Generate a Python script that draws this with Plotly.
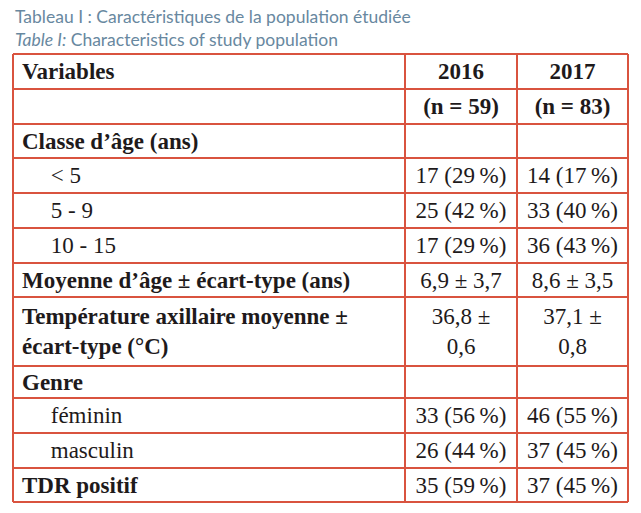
import plotly.graph_objects as go

# table content
header = ["<b>Variables</b>", "<b>2016</b>", "<b>2017</b>"]

ind = "\u00a0" * 5
variables = [
    "",
    "<b>Classe d’âge (ans)</b>",
    ind + "< 5",
    ind + "5 - 9",
    ind + "10 - 15",
    "<b>Moyenne d’âge ± écart-type (ans)</b>",
    "<b>Température axillaire moyenne ±<br>écart-type (°C)</b>",
    "<b>Genre</b>",
    ind + "féminin",
    ind + "masculin",
    "<b>TDR positif</b>",
]
col_2016 = [
    "<b>(n = 59)</b>", "",
    "17 (29\u202f%)", "25 (42\u202f%)", "17 (29\u202f%)",
    "6,9 ± 3,7", "36,8 ±<br>0,6", "",
    "33 (56\u202f%)", "26 (44\u202f%)", "35 (59\u202f%)",
]
col_2017 = [
    "<b>(n = 83)</b>", "",
    "14 (17\u202f%)", "33 (40\u202f%)", "36 (43\u202f%)",
    "8,6 ± 3,5", "37,1 ±<br>0,8", "",
    "46 (55\u202f%)", "37 (45\u202f%)", "37 (45\u202f%)",
]

# layout of the grid (page pixels)
row_edges = [54, 89, 124, 158, 193, 228, 263, 297, 366, 398, 433, 468, 502]
col_edges = [13, 405, 517, 628]
red = "#d9533f"
txt = "#1e1a1b"
serif = "Liberation Serif"

centers = [(a + b) / 2 + 2 for a, b in zip(row_edges[:-1], row_edges[1:])]
col_mid = [(a + b) / 2 for a, b in zip(col_edges[:-1], col_edges[1:])]

first_col = [header[0]] + variables
second_col = [header[1]] + col_2016
third_col = [header[2]] + col_2017

fig = go.Figure()
fig.add_trace(go.Scatter(
    x=[col_edges[0] + 9] * len(first_col), y=centers, text=first_col,
    mode="text", textposition="middle right",
    textfont=dict(family=serif, size=23, color=txt), hoverinfo="skip"))
fig.add_trace(go.Scatter(
    x=[col_mid[1]] * len(second_col), y=centers, text=second_col,
    mode="text", textposition="middle center",
    textfont=dict(family=serif, size=23, color=txt), hoverinfo="skip"))
fig.add_trace(go.Scatter(
    x=[col_mid[2]] * len(third_col), y=centers, text=third_col,
    mode="text", textposition="middle center",
    textfont=dict(family=serif, size=23, color=txt), hoverinfo="skip"))

for y in row_edges:
    fig.add_shape(type="line", x0=col_edges[0], x1=col_edges[-1], y0=y, y1=y,
                  line=dict(color=red, width=2))
for x in col_edges:
    fig.add_shape(type="line", x0=x, x1=x, y0=row_edges[0], y1=row_edges[-1],
                  line=dict(color=red, width=2))

fig.add_annotation(x=13, y=16, xanchor="left", yanchor="middle", showarrow=False,
                   text="Tableau I : Caractéristiques de la population étudiée",
                   font=dict(family="Lato", size=17.5, color="#6888a0"))
fig.add_annotation(x=13, y=39, xanchor="left", yanchor="middle", showarrow=False,
                   text="<i>Table I:</i> Characteristics of study population",
                   font=dict(family="Lato", size=17.5, color="#6888a0"))

# page has an 8px body margin, so axes are set to page pixels
fig.update_xaxes(range=[8, 633], visible=False, fixedrange=True)
fig.update_yaxes(range=[505, 8], visible=False, fixedrange=True)
fig.update_layout(width=625, height=497, margin=dict(l=0, r=0, t=0, b=0),
                  paper_bgcolor="white", plot_bgcolor="white", showlegend=False)

fig.write_html("out.html")
